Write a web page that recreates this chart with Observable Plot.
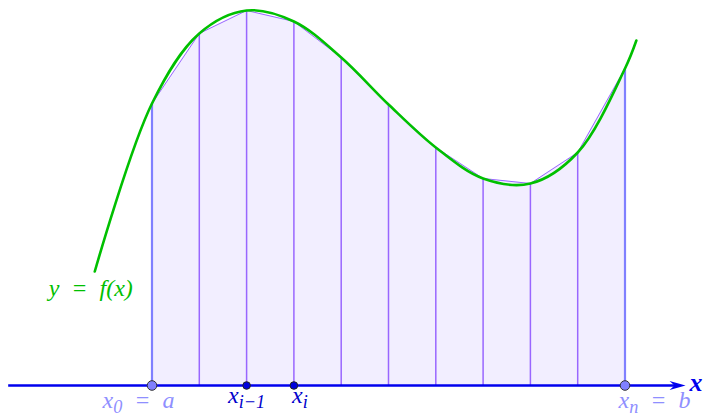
<!DOCTYPE html>
<html><head><meta charset="utf-8">
<script src="https://cdn.jsdelivr.net/npm/d3@7"></script>
<script src="https://cdn.jsdelivr.net/npm/@observablehq/plot@0.6"></script>
<style>body{margin:0;background:#fff} svg{display:block}</style>
</head><body><div id="chart"></div>
<script>
// Partition nodes x_0 = a ... x_n = b (in units of one step) and f(x_k)
const nodeX = [0, 1, 2, 3, 4, 5, 6, 7, 8, 9, 10];
const nodeY = [2.82, 3.52, 3.75, 3.64, 3.28, 2.81, 2.38, 2.07, 2.02, 2.33, 3.17];
// samples of the curve y = f(x)
const curveX = [-1.21, 0, 1, 2, 3, 4, 5, 6, 7, 8, 9, 10, 10.24];
const curveY = [1.14, 2.82, 3.52, 3.75, 3.64, 3.28, 2.81, 2.38, 2.07, 2.02, 2.33, 3.17, 3.45];
// x axis extent
const axisFrom = -3.03;
const axisTo = 11.28;
// labelled nodes
const endLabels = ["x_0 = a", "x_n = b"];
const endLabelAt = [0, 10];
const midLabels = ["x_{i\u22121}", "x_i"];
const midLabelAt = [2, 3];
const curveLabel = "y = f(x)";
const axisLabel = "x";

const nodes = nodeX.map((x, i) => ({x, y: nodeY[i]}));
const curve = curveX.map((x, i) => ({x, y: curveY[i]}));
const inner = nodes.slice(1, -1);
const ends = [nodes[0], nodes[nodes.length - 1]];
const endL = endLabels.map((t, i) => ({x: endLabelAt[i], t}));
const midL = midLabels.map((t, i) => ({x: midLabelAt[i], t}));

const stealth = {draw(ctx) {
  ctx.moveTo(0, 0); ctx.lineTo(-16, -4.5); ctx.lineTo(-11, 0); ctx.lineTo(-16, 4.5); ctx.closePath();
}};

const font = "'Liberation Serif', serif";
const plot = Plot.plot({
  width: 703, height: 415,
  marginTop: 0, marginRight: 0, marginBottom: 0, marginLeft: 0,
  x: {domain: [0, 10], range: [151.5, 624.5], axis: null},
  y: {domain: [0, 3.85], range: [385, 0], axis: null},
  style: {background: "#fff"},
  marks: [
    Plot.areaY(nodes, {x: "x", y: "y", fill: "#f2eeff", curve: "linear"}),
    Plot.line(nodes, {x: "x", y: "y", stroke: "#9966ff", strokeWidth: 1}),
    Plot.ruleX(inner, {x: "x", y1: 0, y2: "y", stroke: "#9966ff", strokeWidth: 1.5}),
    Plot.ruleX(ends, {x: "x", y1: 0, y2: "y", stroke: "#8080ff", strokeWidth: 2.2}),
    Plot.line(curve, {x: "x", y: "y", stroke: "#00c000", strokeWidth: 2.6, curve: "catmull-rom"}),
    Plot.ruleY([0], {x1: axisFrom, x2: axisTo - 0.15, stroke: "#0000ee", strokeWidth: 2.5}),
    Plot.dot([axisTo], {x: d => d, y: 0, symbol: stealth, fill: "#0000ee", stroke: null}),
    Plot.dot(ends, {x: "x", y: 0, r: 4.8, fill: "#8080ff", stroke: "#333", strokeWidth: 1}),
    Plot.dot(midL, {x: "x", y: 0, r: 3.8, fill: "#0000dd", stroke: "#222", strokeWidth: 1}),
    Plot.text(endL, {x: "x", y: 0, text: "t", fill: "#8f8fff", fontSize: 24, fontStyle: "italic", fontFamily: font,
      lineAnchor: "bottom", dy: 22}),
    Plot.text(midL, {x: "x", y: 0, text: "t", fill: "#0000cc", fontSize: 24, fontStyle: "italic", fontFamily: font,
      lineAnchor: "bottom", dy: 17}),
    Plot.text([curve[0]], {x: "x", y: "y", text: () => curveLabel, fill: "#00c000", fontSize: 24, fontStyle: "italic",
      fontFamily: font, lineAnchor: "bottom", dx: -4, dy: 24}),
    Plot.text([axisTo], {x: d => d, y: 0, text: () => axisLabel, fill: "#0000ee", fontSize: 26, fontStyle: "italic",
      fontWeight: "bold", fontFamily: font, lineAnchor: "bottom", textAnchor: "start", dx: 4, dy: 5})
  ]
});
document.getElementById("chart").appendChild(plot);

// math-like typesetting: subscripts as tspans, wider spacing around "="
const NS = "http://www.w3.org/2000/svg";
const shift = {"x_0 = a": -13.5, "x_n = b": 29.5, "x_i": 6};
plot.querySelectorAll("text").forEach(el => {
  const s = el.textContent;
  if (s.includes(" = ")) el.setAttribute("word-spacing", "6");
  const m = s.match(/^(.*?)_(?:\{([^}]*)\}|(\S))(.*)$/);
  if (!m) return;
  const sub = m[2] !== undefined ? m[2] : m[3];
  while (el.firstChild) el.removeChild(el.firstChild);
  const a = document.createElementNS(NS, "tspan"); a.textContent = m[1];
  const b = document.createElementNS(NS, "tspan"); b.textContent = sub;
  b.setAttribute("font-size", "76%"); b.setAttribute("dy", "5");
  el.appendChild(a); el.appendChild(b);
  if (m[4]) {
    const c = document.createElementNS(NS, "tspan"); c.textContent = m[4]; c.setAttribute("dy", "-5");
    el.appendChild(c);
  }
  if (shift[s] !== undefined) {
    const t = el.getAttribute("transform") || "";
    el.setAttribute("transform", t + ` translate(${shift[s]},0)`);
  }
});
</script>
</body></html>
